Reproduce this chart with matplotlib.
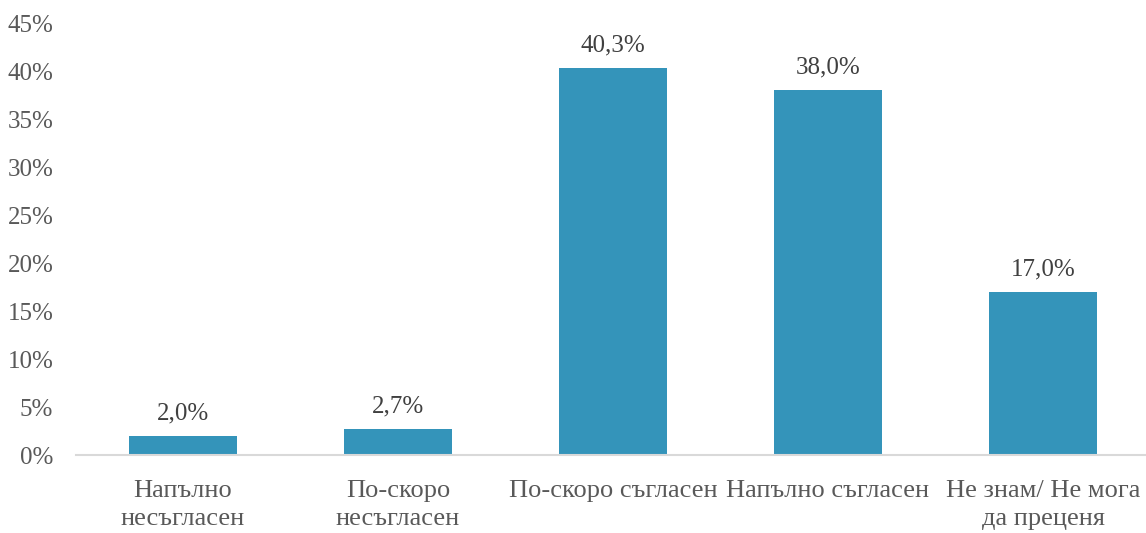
import matplotlib.pyplot as plt

categories = ['Напълно\nнесъгласен', 'По-скоро\nнесъгласен', 'По-скоро съгласен',
              'Напълно съгласен', 'Не знам/ Не мога\nда преценя']
values = [2.0, 2.7, 40.3, 38.0, 17.0]
yticks = [0, 5, 10, 15, 20, 25, 30, 35, 40, 45]

plt.rcParams['font.family'] = ['Liberation Serif', 'DejaVu Serif']
text_color = '#595959'

fig = plt.figure(figsize=(11.46, 5.33), dpi=100)
ax = fig.add_axes([75.5 / 1146, 78 / 533, 1075 / 1146, 432 / 533])

x = list(range(len(values)))
bars = ax.bar(x, values, width=0.5, color='#3494BA', zorder=2)

for xi, v in zip(x, values):
    ax.text(xi, v + 1.2, f'{v:.1f}%'.replace('.', ','), ha='center', va='bottom',
            fontsize=18, color='#404040')

ax.set_xlim(-0.5, 4.5)
ax.set_ylim(0, 45)
ax.set_yticks(yticks)
ax.set_yticklabels([f'{t}%' for t in yticks], fontsize=18, color=text_color)
ax.set_xticks(x)
ax.set_xticklabels(categories, fontsize=19, color=text_color, linespacing=1.38)
ax.tick_params(axis='y', length=0, pad=16)
ax.tick_params(axis='x', length=0, pad=18)

for s in ['top', 'right', 'left']:
    ax.spines[s].set_visible(False)
ax.spines['bottom'].set_color('#D9D9D9')
ax.spines['bottom'].set_linewidth(1.5)

fig.savefig('out.png', dpi=100)
